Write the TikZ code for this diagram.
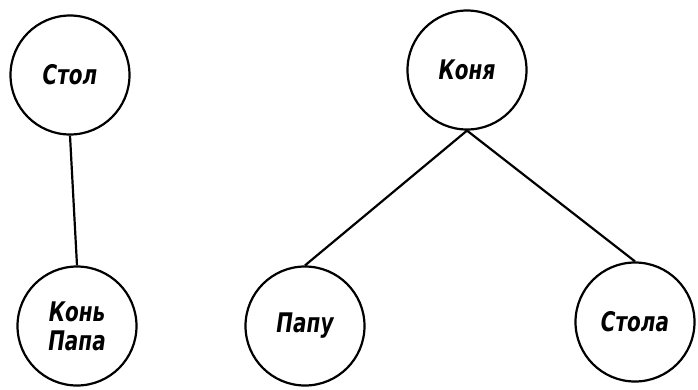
\documentclass[tikz,border=0pt]{standalone}
\usepackage{fontspec}
\setmainfont{DejaVu Sans}[FakeStretch=0.74]
\tikzset{
  word/.style={circle, draw, line width=2.2pt, minimum size=119pt, inner sep=0pt,
    font=\fontsize{27}{31}\selectfont\bfseries\itshape, align=center},
  link/.style={line width=2.2pt}
}
\begin{document}
\begin{tikzpicture}[x=1pt, y=-1pt]
\useasboundingbox (0,0) rectangle (698,389);

% ---------- left tree ----------
\node[word] (stol) at (70,75) {Стол};
\node[word] (konpapa) at (77,326) {Конь\\[-2pt]Папа};
\draw[link] (stol.south) -- (konpapa.north);

% ---------- right tree ----------
\node[word] (konya) at (467,70) {Коня};
\node[word] (papu) at (305,326) {Папу};
\node[word] (stola) at (635,322) {Стола};
\draw[link] (konya.south) -- (papu.north);
\draw[link] (konya.south) -- (stola.north);

\end{tikzpicture}
\end{document}
